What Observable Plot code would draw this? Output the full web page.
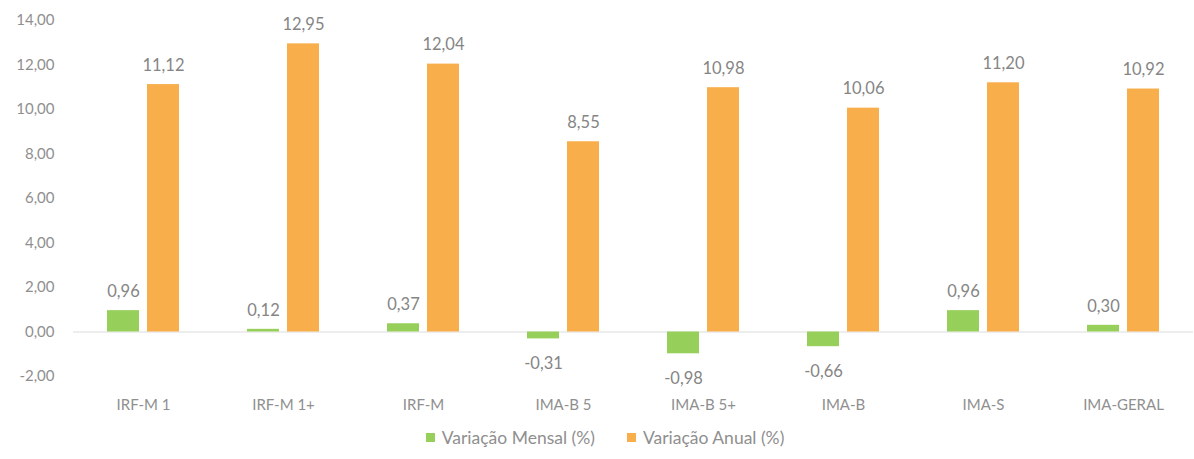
<!DOCTYPE html>
<html>
<head>
<meta charset="utf-8">
<script src="https://cdn.jsdelivr.net/npm/d3@7"></script>
<script src="https://cdn.jsdelivr.net/npm/@observablehq/plot@0.6"></script>
<style>
  html, body { margin: 0; padding: 0; background: #fff; }
  #chart { width: 1194px; }
  .legend { display: flex; justify-content: center; align-items: center; gap: 32px; height: 24px;
    font-family: Lato, "Open Sans", sans-serif; font-size: 17.5px; color: #8f8f8f; margin-left: 16px; margin-top: 0px; }
  .legend span.item { display: flex; align-items: center; gap: 7px; }
  .legend i { display: inline-block; width: 9px; height: 9px; }
</style>
</head>
<body>
<div id="chart"></div>
<script>
const categories = ["IRF-M 1", "IRF-M 1+", "IRF-M", "IMA-B 5", "IMA-B 5+", "IMA-B", "IMA-S", "IMA-GERAL"];
const mensal = [0.96, 0.12, 0.37, -0.31, -0.98, -0.66, 0.96, 0.30];
const anual = [11.12, 12.95, 12.04, 8.55, 10.98, 10.06, 11.20, 10.92];
const yTicks = [-2, 0, 2, 4, 6, 8, 10, 12, 14];
const seriesNames = ["Variação Mensal (%)", "Variação Anual (%)"];
const colors = ["#96cf5a", "#f8ae4a"];

const fmt = d => d.toFixed(2).replace(".", ",");
const dataM = categories.map((c, i) => ({cat: c, value: mensal[i]}));
const dataA = categories.map((c, i) => ({cat: c, value: anual[i]}));

const font = "Lato, 'Open Sans', sans-serif";
const labelColor = "#858585";

const chart = Plot.plot({
  width: 1194,
  height: 425,
  marginLeft: 73,
  marginRight: 1,
  marginTop: 20,
  marginBottom: 49,
  style: {fontFamily: font, fontSize: "15px", color: "#8f8f8f", background: "#fff"},
  x: {domain: categories, padding: 0, label: null, tickSize: 0, tickPadding: 23},
  y: {domain: [-2, 14], ticks: yTicks, tickFormat: fmt, label: null, tickSize: 0, tickPadding: 19},
  marks: [
    Plot.ruleY([0], {stroke: "#dcdcdc", strokeWidth: 1}),
    Plot.barY(dataM, {x: "cat", y: "value", fill: colors[0], insetLeft: 34, insetRight: 74}),
    Plot.barY(dataA, {x: "cat", y: "value", fill: colors[1], insetLeft: 74, insetRight: 34}),
    Plot.text(dataM.filter(d => d.value >= 0), {x: "cat", y: "value", text: d => fmt(d.value), dx: -20, dy: -19, fill: labelColor, fontSize: 16.5}),
    Plot.text(dataM.filter(d => d.value < 0), {x: "cat", y: "value", text: d => fmt(d.value), dx: -20, dy: 25, fill: labelColor, fontSize: 16.5}),
    Plot.text(dataA, {x: "cat", y: "value", text: d => fmt(d.value), dx: 20, dy: -19, fill: labelColor, fontSize: 16.5})
  ]
});
document.getElementById("chart").appendChild(chart);

const legend = document.createElement("div");
legend.className = "legend";
seriesNames.forEach((name, i) => {
  const item = document.createElement("span");
  item.className = "item";
  const sw = document.createElement("i");
  sw.style.background = colors[i];
  item.appendChild(sw);
  item.appendChild(document.createTextNode(name));
  legend.appendChild(item);
});
document.getElementById("chart").appendChild(legend);
</script>
</body>
</html>
